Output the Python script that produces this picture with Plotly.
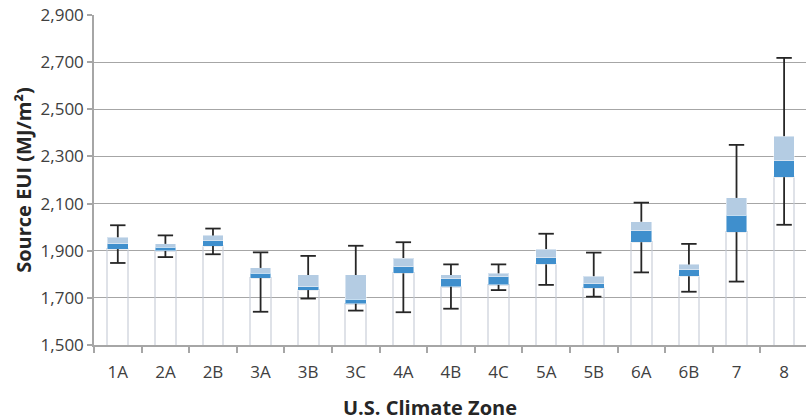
import plotly.graph_objects as go

zones = ["1A", "2A", "2B", "3A", "3B", "3C", "4A", "4B", "4C", "5A", "5B", "6A", "6B", "7", "8"]
minimum = [1848, 1873, 1885, 1641, 1697, 1646, 1639, 1654, 1733, 1755, 1705, 1808, 1726, 1769, 2010]
q1 = [1907, 1899, 1920, 1784, 1733, 1675, 1804, 1747, 1755, 1842, 1741, 1936, 1792, 1979, 2212]
median = [1929, 1915, 1943, 1804, 1747, 1695, 1832, 1781, 1790, 1870, 1760, 1985, 1820, 2050, 2281]
q3 = [1957, 1929, 1965, 1827, 1797, 1797, 1869, 1797, 1804, 1907, 1792, 2023, 1842, 2124, 2386]
maximum = [2008, 1965, 1994, 1893, 1878, 1921, 1936, 1842, 1842, 1972, 1892, 2104, 1929, 2349, 2718]

low_seg = [b - a for a, b in zip(q1, median)]
high_seg = [b - a for a, b in zip(median, q3)]

# whisker segments (box edge -> extreme), separated by gaps
wx, wy = [], []
for z, lo, a, b, hi in zip(zones, minimum, q1, q3, maximum):
    wx += [z, z, None, z, z, None]
    wy += [lo, a, None, b, hi, None]

whisk_color = "#262626"
fig = go.Figure()
fig.add_trace(go.Bar(
    x=zones, y=q1,
    marker=dict(color="rgba(255,255,255,0)", line=dict(color="rgba(196,202,214,0.55)", width=2)),
    hoverinfo="skip", showlegend=False,
))
fig.add_trace(go.Bar(
    x=zones, y=low_seg,
    marker=dict(color="#3f8fcd", line=dict(color="rgba(255,255,255,0.45)", width=1)),
    showlegend=False,
))
fig.add_trace(go.Bar(
    x=zones, y=high_seg,
    marker=dict(color="#b4cce3", line=dict(color="rgba(255,255,255,0.45)", width=1)),
    showlegend=False,
))
fig.add_trace(go.Scatter(
    x=wx, y=wy, mode="lines", line=dict(color=whisk_color, width=1.8),
    hoverinfo="skip", showlegend=False, connectgaps=False,
))
fig.add_trace(go.Scatter(
    x=zones + zones, y=maximum + minimum, mode="markers",
    marker=dict(symbol="line-ew", size=11, line=dict(color=whisk_color, width=1.8)),
    showlegend=False,
))

fig.update_layout(
    width=806, height=420,
    margin=dict(l=94, r=0, t=15, b=75),
    paper_bgcolor="white", plot_bgcolor="white",
    barmode="stack", bargap=0.565,
    font=dict(family="Open Sans", size=17, color="#404040"),
    xaxis=dict(
        type="category", range=[-0.5, 14.46],
        showline=True, linecolor="#a6a6a6", linewidth=1.5,
        ticks="outside", tickson="boundaries", ticklen=6, tickcolor="#a6a6a6", tickwidth=1.5,
        ticklabelstandoff=11,
        showgrid=False, tickfont=dict(size=17, color="#404040"),
    ),
    yaxis=dict(
        range=[1500, 2900], tick0=1500, dtick=200, tickformat=",",
        showline=True, linecolor="#a6a6a6", linewidth=1.5,
        ticks="outside", ticklen=5, tickcolor="#a6a6a6", tickwidth=1.5,
        showgrid=True, gridcolor="#a6a6a6", gridwidth=1.4,
        zeroline=False, tickfont=dict(size=17, color="#404040"),
        title=dict(text="Source EUI (MJ/m²)", font=dict(size=20, color="#262626", family="Open Sans", weight="bold"),
                   standoff=4),
    ),
    annotations=[dict(
        text="<b>U.S. Climate Zone</b>", xref="paper", yref="paper",
        x=0.472, y=-0.19, xanchor="center", yanchor="middle", showarrow=False,
        font=dict(size=20, color="#262626", family="Open Sans"),
    )],
)

fig.write_html("out.html")
